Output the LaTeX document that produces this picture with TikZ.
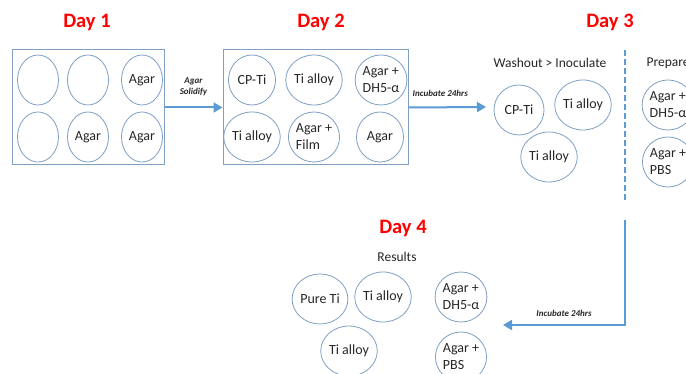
\documentclass[tikz,border=0pt]{standalone}
\usepackage{fontspec}
\setmainfont{Carlito}
\usepackage{tikz}
\usetikzlibrary{arrows.meta,shapes.geometric}
\definecolor{rim}{HTML}{7F9FC4}
\definecolor{flowblue}{HTML}{5B9BD5}
\definecolor{dayred}{HTML}{FF0000}
\definecolor{ink}{HTML}{262626}
\tikzset{
  plate/.style={draw=rim, line width=1pt, minimum width=152pt, minimum height=115pt, inner sep=0pt},
  well/.style={ellipse, draw=rim, line width=0.8pt, minimum width=41pt, minimum height=50pt, inner sep=0pt, text=ink, font=\fontsize{14}{17}\selectfont, align=left},
  cup/.style={well, minimum width=47pt},
  dish/.style={well, minimum width=50pt},
  flow/.style={draw=flowblue, line width=2pt, -{Triangle[length=9pt,width=10pt]}},
  divider/.style={draw=flowblue, line width=2pt, dash pattern=on 6pt off 3pt},
  daylbl/.style={text=dayred, font=\fontsize{20.5}{24}\selectfont\bfseries},
  steplbl/.style={text=ink, font=\fontsize{13.5}{16}\selectfont},
  flowlbl/.style={text=ink, font=\fontsize{9}{11}\selectfont\bfseries\itshape, align=center}
}

\begin{document}
\begin{tikzpicture}[x=1pt,y=-1pt]
  \clip (0,0) rectangle (686,374);

  % Day 1
  \node[daylbl] (day1) at (87,22) {Day 1};
  \node[plate] (plate1) at (88,107.5) {};
  \node[well] (w1a) at (38,80) {};
  \node[well] (w1b) at (88,80) {};
  \node[well] (w1c) at (142,80) {Agar};
  \node[well] (w1d) at (38,137) {};
  \node[well] (w1e) at (88,137) {Agar};
  \node[well] (w1f) at (142,137) {Agar};

  % Day 2
  \node[daylbl] (day2) at (321,22) {Day 2};
  \node[plate, minimum width=185pt] (plate2) at (315.5,107.5) {};
  \node[cup] (w2a) at (252,80) {CP-Ti};
  \node[cup] (w2b) at (314,80) {Ti alloy};
  \node[cup] (w2c) at (381,80) {Agar +\\DH5-α};
  \node[cup] (w2d) at (252,137) {Ti alloy};
  \node[cup] (w2e) at (314,137) {Agar +\\Film};
  \node[cup] (w2f) at (380,137) {Agar};

  \draw[flow] (plate1.east) -- (plate2.west)
    node[flowlbl, midway, above=7pt] {Agar\\Solidify};

  % Day 3
  \node[daylbl] (day3) at (610,22) {Day 3};
  \node[steplbl] (wash) at (550,63) {Washout > Inoculate};
  \node[steplbl, anchor=west] (prep) at (643,63) {Prepare};
  \node[dish] (w3a) at (519,110) {CP-Ti};
  \node[dish] (w3b) at (583,105) {Ti alloy};
  \node[dish] (w3c) at (549,157) {Ti alloy};
  \node[dish] (w3d) at (668,105) {Agar +\\DH5-α};
  \node[dish] (w3e) at (668,162) {Agar +\\PBS};

  \coordinate (in3) at (486,107);
  \draw[flow] (plate2.east) -- (in3)
    node[flowlbl, pos=0.41, above=6pt] {Incubate 24hrs};

  \coordinate (cut3) at (625,50);
  \coordinate (cutend) at (625,202);
  \draw[divider] (cut3) -- (cutend);

  % Day 4
  \node[daylbl] (day4) at (403,228) {Day 4};
  \node[steplbl] (res) at (397,257) {Results};
  \node[dish] (w4a) at (320,299) {Pure Ti};
  \node[dish] (w4b) at (383,297) {Ti alloy};
  \node[dish] (w4c) at (349,351) {Ti alloy};
  \node[dish] (w4d) at (461,297) {Agar +\\DH5-α};
  \node[dish] (w4e) at (461,357) {Agar +\\PBS};

  \coordinate (ret) at (625,220);
  \coordinate (turn) at (625,325);
  \coordinate (in4) at (503,325);
  \draw[flow] (ret) -- (turn) -- (in4)
    node[flowlbl, midway, above=4pt] {Incubate 24hrs};
\end{tikzpicture}
\end{document}
